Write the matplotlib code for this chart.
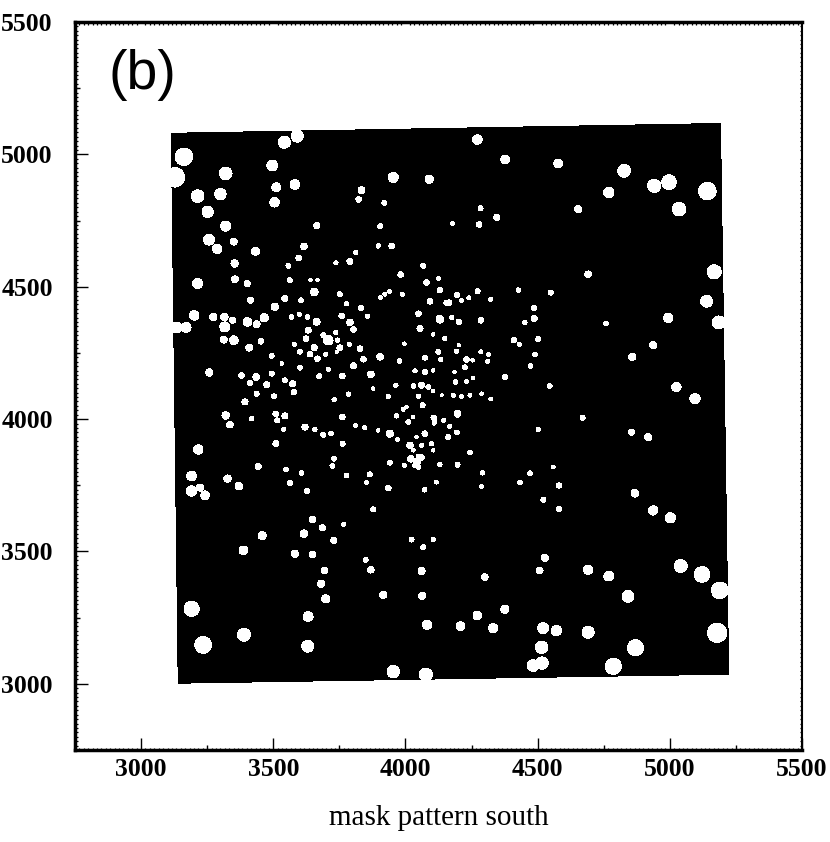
import matplotlib
matplotlib.use('Agg')
import matplotlib.pyplot as plt
from matplotlib.patches import Circle
from matplotlib.ticker import MultipleLocator

# esquinas de la mascara
mask_x = [3117, 5189, 5220, 3143]
mask_y = [5077, 5114, 3039, 3005]

# marcas intermedias de los ejes
mid_ticks = [2750, 3250, 3750, 4250, 4750, 5250]

# huecos: centro y diametro
nw_x = [3162, 3128, 3320, 3214, 3300, 3252, 3320, 3257, 3288, 3351,
        3433, 3354, 3355, 3402, 3214, 3542, 3591, 3496, 3511, 3582,
        3505, 3834, 3823, 3920, 3954, 4090, 3664, 3904, 3616, 3897,
        3948, 3812, 3596, 3557, 3790, 3737, 3563, 3641, 3667, 3655,
        3752, 3906, 3922, 3939, 3988, 3982, 4067, 4080, 4124, 4130,
        4093, 4156, 3414, 3544, 3605, 3506, 3777, 3832, 3856, 3201,
        3273, 3315, 3346, 3317, 3402, 3437, 3466, 3569, 3598, 3629,
        3664, 3759, 3790, 3803, 4049, 4055, 4105, 4130, 4149, 3135,
        3170, 3313, 3351, 3453, 3409, 3632, 3736, 3624, 3708, 3689,
        3743, 3752, 3788, 3828, 3655, 3580, 3601, 3639, 3667, 3699,
        3740, 3494, 3532, 3601, 3708, 3803, 3841, 3904, 3977, 3996,
        4074, 4124, 4134, 4036, 4074, 4105, 3258, 3380, 3435, 3494,
        3544, 3674, 3761, 3869, 3878, 3964, 3412, 3475, 3573, 3437,
        3503, 3578, 3393, 3730, 3784, 3935, 4049, 4030, 4061, 4086,
        4105, 4137, 4065, 4004]
nw_y = [4991, 4913, 4928, 4842, 4850, 4783, 4729, 4678, 4643, 4670,
        4634, 4588, 4528, 4512, 4512, 5046, 5069, 4958, 4876, 4886,
        4819, 4865, 4830, 4817, 4913, 4906, 4731, 4729, 4652, 4654,
        4654, 4629, 4609, 4579, 4596, 4590, 4525, 4525, 4525, 4480,
        4472, 4459, 4472, 4482, 4472, 4546, 4579, 4516, 4531, 4487,
        4445, 4439, 4449, 4455, 4449, 4424, 4436, 4420, 4389, 4392,
        4386, 4386, 4373, 4348, 4367, 4358, 4383, 4386, 4396, 4386,
        4367, 4390, 4365, 4338, 4398, 4342, 4320, 4377, 4304, 4346,
        4346, 4300, 4298, 4294, 4270, 4336, 4327, 4304, 4298, 4317,
        4298, 4269, 4283, 4266, 4270, 4283, 4254, 4245, 4228, 4245,
        4254, 4239, 4210, 4194, 4188, 4201, 4226, 4235, 4220, 4285,
        4232, 4254, 4225, 4182, 4178, 4184, 4176, 4165, 4159, 4172,
        4146, 4162, 4163, 4169, 4115, 4128, 4136, 4130, 4134, 4096,
        4086, 4102, 4065, 4073, 4094, 4086, 4086, 4125, 4128, 4121,
        4106, 4090, 4052, 4046]
nw_d = [63, 70, 45, 45, 40, 40, 35, 38, 33, 23,
        28, 25, 23, 20, 35, 43, 43, 38, 30, 33,
        33, 23, 18, 15, 35, 28, 20, 15, 22, 13,
        18, 13, 18, 15, 20, 13, 15, 10, 10, 26,
        15, 12, 12, 12, 13, 18, 15, 18, 12, 18,
        18, 18, 20, 20, 15, 25, 13, 18, 13, 33,
        25, 25, 20, 35, 30, 23, 28, 15, 13, 15,
        23, 18, 22, 18, 18, 20, 10, 26, 13, 38,
        35, 23, 30, 18, 23, 20, 13, 18, 33, 15,
        14, 20, 12, 18, 20, 12, 15, 18, 18, 13,
        10, 15, 10, 15, 13, 20, 18, 22, 15, 10,
        16, 15, 13, 13, 16, 10, 25, 18, 22, 16,
        16, 16, 18, 22, 10, 13, 18, 20, 20, 16,
        16, 18, 20, 13, 14, 14, 14, 14, 20, 14,
        10, 8, 16, 10]

ne_x = [4272, 4377, 4578, 4827, 4941, 4997, 5142, 4769, 5035, 4653,
        4284, 4345, 4279, 4177, 4691, 5168, 4273, 4427, 4550, 4195,
        4322, 4240, 4212, 4164, 5139, 4486, 4487, 4994, 5185, 4452,
        4758, 4175, 4202, 4285, 4502, 4410, 4430, 4937, 4490, 4858,
        4473, 4202, 4193, 4285, 4313, 4231, 4254, 4311, 4225, 4185,
        4190, 4231, 4256, 4376, 4546, 5025, 5095, 4181, 4212, 4244,
        4288, 4323]
ne_y = [5056, 4981, 4966, 4938, 4881, 4895, 4861, 4856, 4793, 4793,
        4796, 4762, 4735, 4739, 4547, 4556, 4483, 4487, 4478, 4468,
        4453, 4458, 4449, 4439, 4445, 4420, 4380, 4382, 4365, 4365,
        4361, 4384, 4367, 4373, 4302, 4298, 4282, 4279, 4244, 4235,
        4201, 4279, 4256, 4254, 4244, 4225, 4222, 4218, 4195, 4178,
        4140, 4143, 4155, 4159, 4125, 4121, 4077, 4090, 4086, 4090,
        4096, 4076]
ne_d = [33, 30, 30, 45, 47, 52, 63, 36, 48, 24,
        16, 20, 18, 12, 22, 50, 16, 14, 16, 16,
        12, 12, 12, 20, 42, 16, 20, 32, 46, 13,
        15, 14, 18, 18, 16, 18, 12, 24, 16, 24,
        15, 10, 14, 12, 12, 18, 10, 12, 16, 10,
        14, 12, 10, 18, 14, 32, 36, 12, 12, 12,
        10, 12]

sw_x = [3320, 3336, 3418, 3509, 3544, 3515, 3540, 3620, 3657, 3689,
        3718, 3761, 3811, 3846, 3897, 3941, 3966, 3991, 4010, 4029,
        4107, 4108, 4145, 4161, 4073, 4042, 4017, 4061, 4098, 4105,
        4020, 4045, 4060, 4035, 4048, 4048, 4130, 3941, 3995, 3762,
        3510, 3216, 3443, 3548, 3607, 3730, 3724, 3777, 3865, 3853,
        3935, 4117, 4073, 3191, 3327, 3370, 3563, 3628, 3191, 3223,
        3242, 3878, 3649, 3686, 3767, 3616, 3458, 3729, 4023, 4105,
        4067, 3387, 3582, 3649, 3849, 3869, 4061, 3693, 3681, 3698,
        3916, 4063, 3191, 3632, 4082, 3389, 3235, 3630, 3954, 4077,
        3970, 3992, 4111, 4143, 4193, 4030]
sw_y = [4014, 3979, 4002, 4020, 4012, 3995, 3961, 3970, 3961, 3941,
        3945, 4008, 3976, 3967, 3957, 3945, 4012, 4037, 3989, 4008,
        4005, 3985, 3995, 3932, 3945, 3932, 3901, 3901, 3907, 3882,
        3850, 3840, 3855, 3825, 3860, 3819, 3828, 3835, 3825, 3907,
        3907, 3885, 3821, 3810, 3797, 3850, 3823, 3787, 3791, 3760,
        3739, 3762, 3733, 3785, 3775, 3747, 3758, 3728, 3728, 3741,
        3712, 3659, 3620, 3590, 3602, 3567, 3560, 3542, 3545, 3545,
        3516, 3504, 3491, 3489, 3468, 3431, 3426, 3428, 3378, 3321,
        3336, 3332, 3283, 3254, 3223, 3185, 3147, 3142, 3046, 3035,
        3922, 4036, 3989, 3995, 3951, 3882]
sw_d = [25, 22, 14, 18, 20, 16, 12, 20, 14, 16,
        14, 18, 13, 12, 10, 24, 13, 12, 14, 10,
        18, 12, 12, 14, 18, 10, 22, 13, 14, 10,
        22, 24, 18, 14, 10, 14, 14, 15, 12, 16,
        20, 32, 20, 14, 15, 14, 16, 14, 16, 12,
        18, 12, 14, 33, 25, 25, 16, 16, 36, 24,
        30, 16, 22, 20, 12, 26, 28, 20, 16, 13,
        15, 30, 24, 22, 16, 22, 24, 22, 24, 28,
        24, 24, 54, 34, 32, 46, 60, 42, 44, 46,
        12, 10, 10, 10, 12, 10]

se_x = [4197, 4670, 4168, 4195, 4162, 4502, 4855, 4918, 4244, 4197,
        4292, 4471, 4559, 4433, 4288, 4581, 4868, 4522, 4581, 4937,
        5002, 4527, 4508, 4691, 4769, 5041, 5122, 5189, 4300, 4842,
        4376, 4272, 4208, 4332, 4521, 4571, 4691, 5179, 4515, 4870,
        4483, 4517, 4786]
se_y = [4020, 4005, 3973, 3949, 3935, 3961, 3951, 3932, 3873, 3828,
        3797, 3796, 3819, 3760, 3746, 3749, 3720, 3695, 3661, 3655,
        3627, 3476, 3428, 3431, 3407, 3445, 3413, 3353, 3403, 3330,
        3281, 3258, 3218, 3210, 3210, 3201, 3195, 3193, 3138, 3136,
        3069, 3078, 3066]
se_d = [22, 16, 13, 14, 12, 13, 20, 24, 14, 16,
        14, 14, 12, 14, 12, 17, 26, 16, 17, 32,
        36, 24, 22, 32, 34, 46, 56, 60, 22, 42,
        28, 30, 30, 32, 38, 36, 42, 70, 44, 58,
        42, 44, 58]

fig = plt.figure(figsize=(8.3, 8.42), dpi=100)
ax = fig.add_axes([75/830, 1 - 750/842, 727/830, 728/842])

ax.fill(mask_x, mask_y, color='black', antialiased=False, zorder=1)

for xs, ys, ds in [(nw_x, nw_y, nw_d), (ne_x, ne_y, ne_d),
                   (sw_x, sw_y, sw_d), (se_x, se_y, se_d)]:
    for x, y, d in zip(xs, ys, ds, strict=True):
        # el radio un poco mayor compensa el borde irregular del original
        ax.add_patch(Circle((x, y), d / 2 + 1.5, color='white', lw=0,
                            antialiased=False, zorder=2))

ax.set_xlim(2750, 5500)
ax.set_ylim(2750, 5500)
ax.xaxis.set_major_locator(MultipleLocator(500))
ax.yaxis.set_major_locator(MultipleLocator(500))
ax.xaxis.set_minor_locator(MultipleLocator(500 / 30))
ax.yaxis.set_minor_locator(MultipleLocator(500 / 30))
ax.tick_params(which='major', direction='in', length=9, width=1, top=False, right=False)
ax.tick_params(which='minor', direction='in', length=1.8, width=0.9, top=True, right=True)
ax.tick_params(axis='x', which='major', pad=6)
ax.tick_params(axis='y', which='major', pad=16)
for lab in ax.get_xticklabels() + ax.get_yticklabels():
    lab.set_family('Liberation Serif')
    lab.set_fontweight('bold')
    lab.set_fontsize(18.5)

# marcas intermedias, mas cortas que las principales
ax.vlines(mid_ticks, 2750, 2770, color='black', lw=1, zorder=3)
ax.hlines(mid_ticks, 2750, 2770, color='black', lw=1, zorder=3)

ax.spines['left'].set_linewidth(2.5)
ax.spines['bottom'].set_linewidth(2.5)
ax.spines['top'].set_linewidth(2.5)
ax.spines['right'].set_linewidth(1.5)

ax.text(2875, 5247, '(b)', family='Liberation Sans', fontsize=40, ha='left', va='baseline')
ax.set_xlabel('mask pattern south', family='Liberation Serif', fontsize=21, va='baseline')
ax.xaxis.set_label_coords(0.5, -75 / 728)

fig.savefig('out.png', dpi=100)
